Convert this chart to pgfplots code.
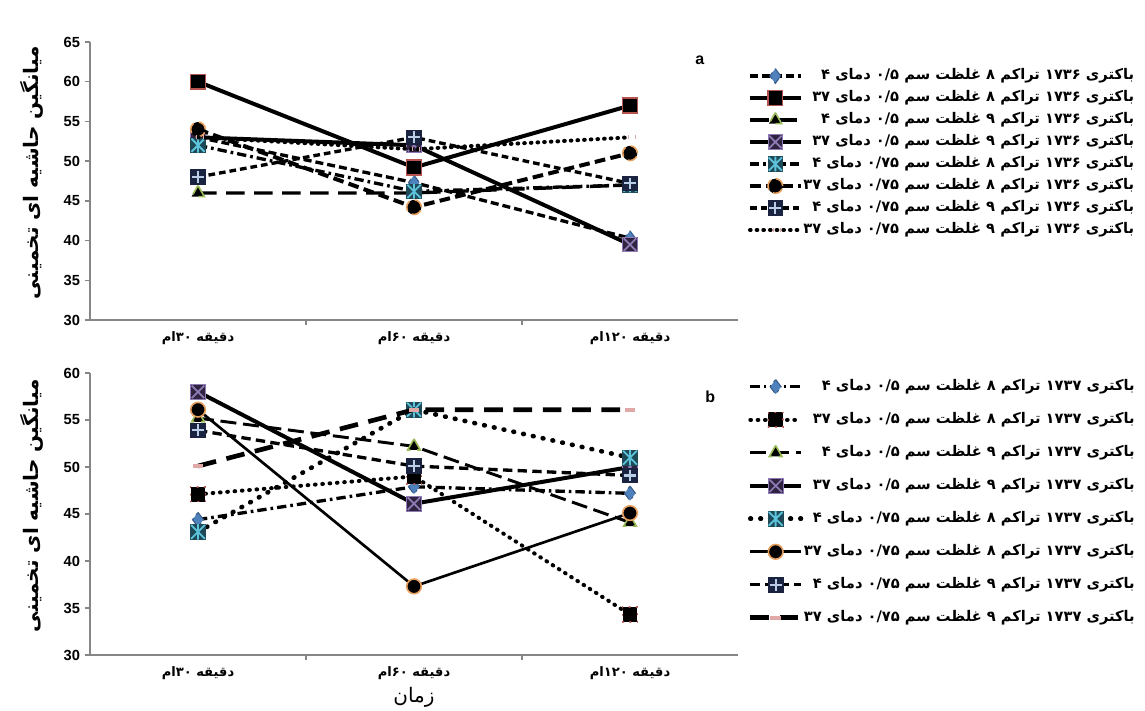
\documentclass[border=0pt]{standalone}
\usepackage{pgfplots}
\pgfplotsset{compat=1.18}
\usepackage{fontspec}
\setmainfont{Liberation Sans}
\newfontfamily\fa[Script=Arabic]{DejaVu Sans}
\TeXXeTstate=1
\newcommand\RL[1]{{\fa\beginR #1\endR}}
\newcommand\leg[4]{\RL{باکتری #1 تراکم #2 غلظت سم #3 دمای #4}}

\definecolor{axisgray}{HTML}{868686}
\definecolor{dblue}{HTML}{4F81BD}
\definecolor{dblueedge}{HTML}{385D8A}
\definecolor{sqred}{HTML}{B85450}
\definecolor{trigreen}{HTML}{9BBB59}
\definecolor{corange}{HTML}{E8A060}
\definecolor{cpink}{HTML}{E0A8A6}
\definecolor{xfill}{HTML}{2E2440}
\definecolor{xline}{HTML}{8F7AB5}
\definecolor{cfill}{HTML}{1E4A58}
\definecolor{cline}{HTML}{5CC3DA}
\definecolor{pfill}{HTML}{1A2440}
\definecolor{pline}{HTML}{B9CDE5}

\pgfdeclareplotmark{boxx}{%
  \pgfsetdash{}{0pt}\pgfsetlinewidth{0.6pt}%
  \pgfsetfillcolor{xfill}\pgfsetstrokecolor{xline}%
  \pgfpathrectangle{\pgfpoint{-\pgfplotmarksize}{-\pgfplotmarksize}}{\pgfpoint{2\pgfplotmarksize}{2\pgfplotmarksize}}%
  \pgfusepathqfillstroke
  \pgfsetlinewidth{1.3pt}%
  \pgfpathmoveto{\pgfpoint{-0.85\pgfplotmarksize}{-0.85\pgfplotmarksize}}%
  \pgfpathlineto{\pgfpoint{0.85\pgfplotmarksize}{0.85\pgfplotmarksize}}%
  \pgfpathmoveto{\pgfpoint{-0.85\pgfplotmarksize}{0.85\pgfplotmarksize}}%
  \pgfpathlineto{\pgfpoint{0.85\pgfplotmarksize}{-0.85\pgfplotmarksize}}%
  \pgfusepathqstroke
}
\pgfdeclareplotmark{cyanstar}{%
  \pgfsetdash{}{0pt}\pgfsetlinewidth{0.6pt}%
  \pgfsetfillcolor{cfill}\pgfsetstrokecolor{cfill}%
  \pgfpathrectangle{\pgfpoint{-\pgfplotmarksize}{-\pgfplotmarksize}}{\pgfpoint{2\pgfplotmarksize}{2\pgfplotmarksize}}%
  \pgfusepathqfillstroke
  \pgfsetstrokecolor{cline}\pgfsetlinewidth{1.4pt}%
  \pgfpathmoveto{\pgfpoint{-0.9\pgfplotmarksize}{-0.9\pgfplotmarksize}}%
  \pgfpathlineto{\pgfpoint{0.9\pgfplotmarksize}{0.9\pgfplotmarksize}}%
  \pgfpathmoveto{\pgfpoint{-0.9\pgfplotmarksize}{0.9\pgfplotmarksize}}%
  \pgfpathlineto{\pgfpoint{0.9\pgfplotmarksize}{-0.9\pgfplotmarksize}}%
  \pgfpathmoveto{\pgfpoint{0pt}{-\pgfplotmarksize}}%
  \pgfpathlineto{\pgfpoint{0pt}{\pgfplotmarksize}}%
  \pgfusepathqstroke
}
\pgfdeclareplotmark{plusbox}{%
  \pgfsetdash{}{0pt}\pgfsetlinewidth{0.6pt}%
  \pgfsetfillcolor{pfill}\pgfsetstrokecolor{pfill}%
  \pgfpathrectangle{\pgfpoint{-\pgfplotmarksize}{-\pgfplotmarksize}}{\pgfpoint{2\pgfplotmarksize}{2\pgfplotmarksize}}%
  \pgfusepathqfillstroke
  \pgfsetstrokecolor{pline}\pgfsetlinewidth{1.6pt}%
  \pgfpathmoveto{\pgfpoint{-0.8\pgfplotmarksize}{0pt}}%
  \pgfpathlineto{\pgfpoint{0.8\pgfplotmarksize}{0pt}}%
  \pgfpathmoveto{\pgfpoint{0pt}{-0.8\pgfplotmarksize}}%
  \pgfpathlineto{\pgfpoint{0pt}{0.8\pgfplotmarksize}}%
  \pgfusepathqstroke
}

\pgfplotsset{
  panel/.style={
    scale only axis, width=486pt,
    xmin=0, xmax=3, ymin=30,
    axis x line=bottom, axis y line=left,
    axis line style={-, draw=axisgray, line width=1pt},
    xtick={1,2}, xticklabels={},
    extra x ticks={0.5,1.5,2.5},
    extra x tick labels={\RL{دقیقه ۳۰ام},\RL{دقیقه ۶۰ام},\RL{دقیقه ۱۲۰ام}},
    extra x tick style={major tick length=0pt},
    tick align=outside, major tick length=4pt,
    every tick/.style={draw=axisgray, line width=1pt},
    ytick distance=5,
    yticklabel style={font=\bfseries\fontsize{11}{13}\selectfont, text=black},
    xticklabel style={font=\bfseries\fontsize{9.8}{11}\selectfont, text=black, yshift=-5pt},
    /pgf/number format/assume math mode=true,
    ylabel={\RL{میانگین حاشیه ای تخمینی}},
    ylabel style={font=\bfseries\fontsize{15}{17}\selectfont, at={(axis description cs:-0.09,0.53)}, anchor=center},
    legend cell align=right,
    legend image code/.code={%
      \draw[mark repeat=2,mark phase=2,##1] plot coordinates {(0pt,0pt) (19pt,0pt) (38pt,0pt)};},
    every mark/.append style={solid},
    clip mode=individual,
  }
}

\begin{document}
\begin{tikzpicture}
\useasboundingbox (0,0) rectangle (858.75pt,-532.5pt);
% ---------------- panel a
\begin{axis}[panel, at={(67.5pt,-240pt)}, anchor=south west, height=208.5pt, ymax=65,
  legend style={at={(axis description cs:1.015,0.905)}, anchor=north west, draw=none, fill=none,
    inner sep=0pt, row sep=5.5pt, font=\bfseries\fontsize{11}{12}\selectfont,
    nodes={inner sep=0.5pt, text height=7.5pt, text depth=2.5pt}}]
\addplot[black, line width=2.5pt, dash pattern=on 6pt off 3pt, mark=diamond*, mark size=5.5pt, mark options={fill=dblue, draw=dblueedge, line width=0.8pt}]
  coordinates {(0.5,53) (1.5,47.3) (2.5,40.3)};
\addlegendentry{\leg{۱۷۳۶}{۸}{۰/۵}{۴}}
\addplot[black, line width=3pt, mark=square*, mark size=5.5pt, mark options={fill=black, draw=sqred, line width=1.2pt}]
  coordinates {(0.5,60) (1.5,49.2) (2.5,57)};
\addlegendentry{\leg{۱۷۳۶}{۸}{۰/۵}{۳۷}}
\addplot[black, line width=2.5pt, dash pattern=on 14pt off 7pt, mark=triangle*, mark size=5.5pt, mark options={fill=black, draw=trigreen, line width=1.2pt}]
  coordinates {(0.5,46) (1.5,46) (2.5,47)};
\addlegendentry{\leg{۱۷۳۶}{۹}{۰/۵}{۴}}
\addplot[black, line width=3pt, mark=boxx, mark size=5.5pt]
  coordinates {(0.5,53) (1.5,52) (2.5,39.5)};
\addlegendentry{\leg{۱۷۳۶}{۹}{۰/۵}{۳۷}}
\addplot[black, line width=2.5pt, dash pattern=on 7pt off 3pt on 2pt off 3pt, mark=cyanstar, mark size=5.5pt]
  coordinates {(0.5,52) (1.5,46.2) (2.5,47)};
\addlegendentry{\leg{۱۷۳۶}{۸}{۰/۷۵}{۴}}
\addplot[black, line width=3pt, dash pattern=on 8pt off 4pt, mark=*, mark size=5.5pt, mark options={fill=black, draw=corange, line width=1.2pt}]
  coordinates {(0.5,54) (1.5,44.2) (2.5,51)};
\addlegendentry{\leg{۱۷۳۶}{۸}{۰/۷۵}{۳۷}}
\addplot[black, line width=2.5pt, dash pattern=on 5pt off 3pt, mark=plusbox, mark size=5.5pt]
  coordinates {(0.5,48) (1.5,53) (2.5,47.2)};
\addlegendentry{\leg{۱۷۳۶}{۹}{۰/۷۵}{۴}}
\addplot[black, line width=3pt, dash pattern=on 0.5pt off 4.5pt, line cap=round, mark=-, mark size=4pt, mark options={draw=cpink, line width=3pt, line cap=butt}]
  coordinates {(0.5,53) (1.5,51.5) (2.5,53)};
\addlegendentry{\leg{۱۷۳۶}{۹}{۰/۷۵}{۳۷}}
\node[font=\bfseries\fontsize{12}{14}\selectfont] at (axis description cs:0.941,0.935) {a};
\end{axis}
% ---------------- panel b
\begin{axis}[panel, at={(67.5pt,-491.25pt)}, anchor=south west, height=211.5pt, ymax=60,
  xlabel={\RL{زمان}},
  xlabel style={font=\fontsize{15}{17}\selectfont, at={(axis description cs:0.5,-0.15)}, anchor=center},
  legend style={at={(axis description cs:1.015,0.978)}, anchor=north west, draw=none, fill=none,
    inner sep=0pt, row sep=13.75pt, font=\bfseries\fontsize{11}{12}\selectfont,
    nodes={inner sep=0.5pt, text height=7.5pt, text depth=2.5pt}}]
\addplot[black, line width=2.5pt, dash pattern=on 7pt off 3pt on 2pt off 3pt, mark=diamond*, mark size=5.5pt, mark options={fill=dblue, draw=dblueedge, line width=0.8pt}]
  coordinates {(0.5,44.4) (1.5,47.9) (2.5,47.2)};
\addlegendentry{\leg{۱۷۳۷}{۸}{۰/۵}{۴}}
\addplot[black, line width=3pt, dash pattern=on 0.5pt off 5pt, line cap=round, mark=square*, mark size=5.5pt, mark options={fill=black, draw=sqred, line width=1.2pt}]
  coordinates {(0.5,47.1) (1.5,49) (2.5,34.3)};
\addlegendentry{\leg{۱۷۳۷}{۸}{۰/۵}{۳۷}}
\addplot[black, line width=2.2pt, dash pattern=on 12pt off 5pt, mark=triangle*, mark size=5.5pt, mark options={fill=black, draw=trigreen, line width=1.2pt}]
  coordinates {(0.5,55.2) (1.5,52.2) (2.5,44.1)};
\addlegendentry{\leg{۱۷۳۷}{۹}{۰/۵}{۴}}
\addplot[black, line width=3pt, mark=boxx, mark size=5.5pt]
  coordinates {(0.5,58) (1.5,46.1) (2.5,50)};
\addlegendentry{\leg{۱۷۳۷}{۹}{۰/۵}{۳۷}}
\addplot[black, line width=3.5pt, dash pattern=on 0.5pt off 7pt, line cap=round, mark=cyanstar, mark size=5.5pt]
  coordinates {(0.5,43.1) (1.5,56.1) (2.5,51)};
\addlegendentry{\leg{۱۷۳۷}{۸}{۰/۷۵}{۴}}
\addplot[black, line width=2pt, mark=*, mark size=5.5pt, mark options={fill=black, draw=corange, line width=1.2pt}]
  coordinates {(0.5,56.1) (1.5,37.3) (2.5,45.1)};
\addlegendentry{\leg{۱۷۳۷}{۸}{۰/۷۵}{۳۷}}
\addplot[black, line width=2.5pt, dash pattern=on 7pt off 4pt, mark=plusbox, mark size=5.5pt]
  coordinates {(0.5,53.9) (1.5,50.1) (2.5,49.1)};
\addlegendentry{\leg{۱۷۳۷}{۹}{۰/۷۵}{۴}}
\addplot[black, line width=3.5pt, dash pattern=on 14pt off 8pt, mark=-, mark size=4pt, mark options={draw=cpink, line width=3pt}]
  coordinates {(0.5,50.1) (1.5,56.1) (2.5,56.1)};
\addlegendentry{\leg{۱۷۳۷}{۹}{۰/۷۵}{۳۷}}
\node[font=\bfseries\fontsize{12}{14}\selectfont] at (axis description cs:0.957,0.915) {b};
\end{axis}
\end{tikzpicture}
\end{document}
